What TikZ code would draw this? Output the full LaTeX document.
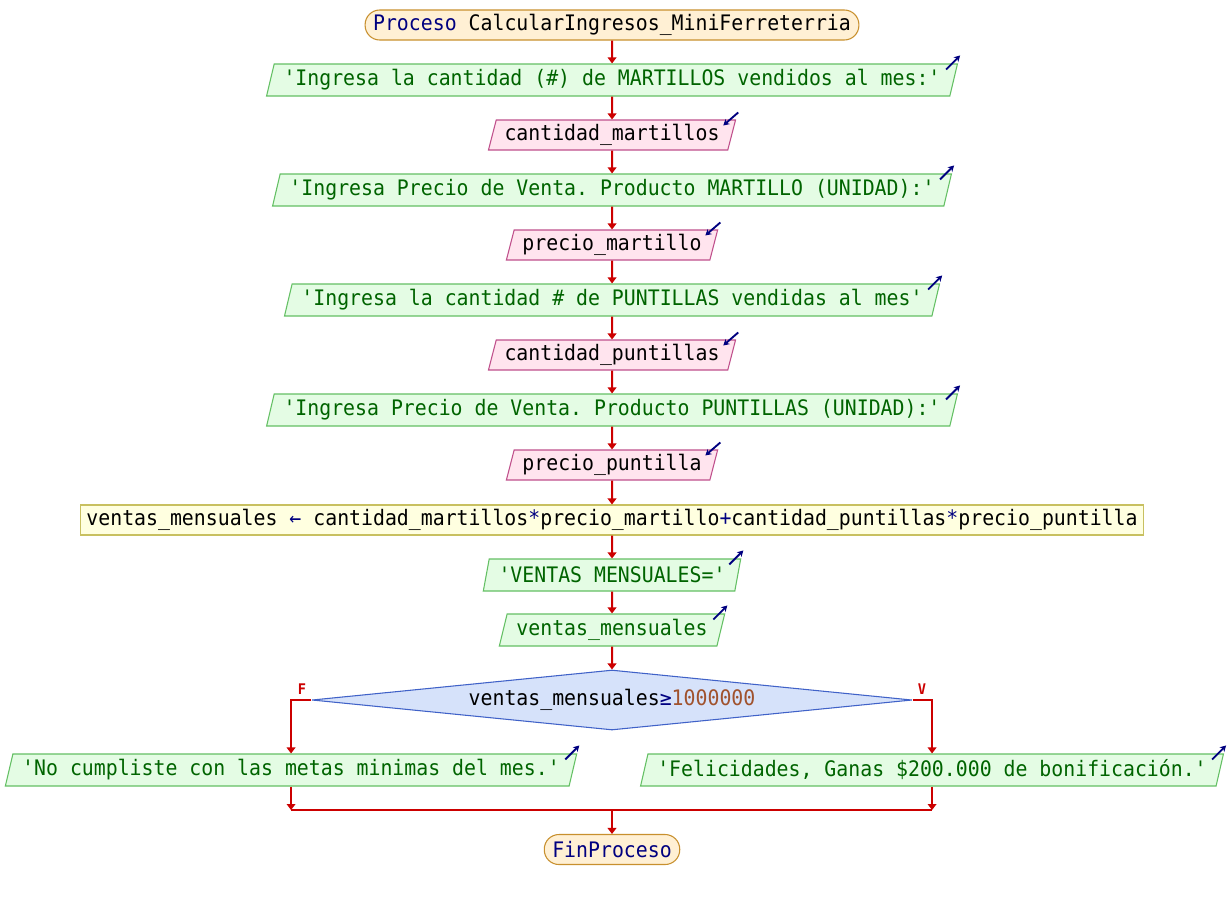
\documentclass[tikz,border=0pt]{standalone}
\usepackage{fontspec}
\setmonofont[FakeStretch=0.93]{DejaVu Sans Mono}
\usetikzlibrary{shapes.geometric,arrows.meta}

\definecolor{flowred}{HTML}{CC0000}
\definecolor{navy}{HTML}{000080}
\definecolor{termfill}{HTML}{FFF0D4}
\definecolor{termdraw}{HTML}{C8902E}
\definecolor{outfill}{HTML}{E4FCE4}
\definecolor{outdraw}{HTML}{64C064}
\definecolor{outtext}{HTML}{006400}
\definecolor{infill}{HTML}{FFE4EE}
\definecolor{indraw}{HTML}{C0508C}
\definecolor{asgfill}{HTML}{FFFFE0}
\definecolor{asgdraw}{HTML}{C8C060}
\definecolor{decfill}{HTML}{D6E2FA}
\definecolor{decdraw}{HTML}{4062C8}
\definecolor{numcol}{HTML}{A0522D}

% helpers for the small read/write marks at the top right corner of I/O boxes
\newcommand{\writemark}[1]{\draw[iomark] ([shift={(-12,6)}]#1.top right corner) -- ([shift={(2,-8)}]#1.top right corner);}
\newcommand{\readmark}[1]{\draw[iomark] ([shift={(2,-7)}]#1.top right corner) -- ([shift={(-13,6)}]#1.top right corner);}

\begin{document}
\begin{tikzpicture}[x=0.75pt,y=-0.75pt,
  font=\ttfamily\fontsize{16}{19}\selectfont,
  term/.style={rectangle, rounded corners=11pt, draw=termdraw, fill=termfill,
    line width=0.8pt, minimum height=22.5pt, inner xsep=6pt, inner ysep=0pt},
  outbox/.style={trapezium, trapezium left angle=70, trapezium right angle=110,
    trapezium stretches=true, draw=outdraw, fill=outfill, text=outtext,
    line width=0.8pt, minimum height=24pt, inner xsep=7pt, inner ysep=0pt},
  inbox/.style={trapezium, trapezium left angle=70, trapezium right angle=110,
    trapezium stretches=true, draw=indraw, fill=infill, text=black,
    line width=0.8pt, minimum height=22.5pt, inner xsep=6.2pt, inner ysep=0pt},
  asgbox/.style={rectangle, draw=asgdraw, fill=asgfill, line width=0.8pt,
    minimum height=22.5pt, inner xsep=4.5pt, inner ysep=0pt},
  condbox/.style={diamond, aspect=10, draw=decdraw, fill=decfill, line width=0.8pt,
    minimum width=450pt, minimum height=45pt, inner sep=0pt},
  flow/.style={draw=flowred, line width=1.5pt, -{Triangle[length=4.5pt,width=6.5pt]}},
  link/.style={draw=flowred, line width=1.5pt},
  iomark/.style={draw=navy, line width=1.4pt, -{Stealth[length=4.5pt,width=5pt]}},
  tag/.style={text=flowred, font=\ttfamily\bfseries\fontsize{11}{13}\selectfont, inner sep=0pt}
]
\useasboundingbox[fill=white] (0,0) rectangle (1230,900);

% main sequence
\node[term]   (start) at (612,25)  {{\color{navy}Proceso} CalcularIngresos\_MiniFerreterria};
\node[outbox] (o1)    at (612,80)  {'Ingresa la cantidad (\#) de MARTILLOS vendidos al mes:'};
\node[inbox]  (i1)    at (612,135) {cantidad\_martillos};
\node[outbox] (o2)    at (612,190) {'Ingresa Precio de Venta. Producto MARTILLO (UNIDAD):'};
\node[inbox]  (i2)    at (612,245) {precio\_martillo};
\node[outbox] (o3)    at (612,300) {'Ingresa la cantidad \# de PUNTILLAS vendidas al mes'};
\node[inbox]  (i3)    at (612,355) {cantidad\_puntillas};
\node[outbox] (o4)    at (612,410) {'Ingresa Precio de Venta. Producto PUNTILLAS (UNIDAD):'};
\node[inbox]  (i4)    at (612,465) {precio\_puntilla};
\node[asgbox] (calc)  at (612,520) {ventas\_mensuales {\color{navy}←} cantidad\_martillos{\color{navy}*}precio\_martillo{\color{navy}+}cantidad\_puntillas{\color{navy}*}precio\_puntilla};
\node[outbox] (o5)    at (612,575) {'VENTAS MENSUALES='};
\node[outbox] (o6)    at (612,630) {ventas\_mensuales};
\node[condbox] (cond) at (612,700) {ventas\_mensuales{\color{navy}≥}{\color{numcol}1000000}};

% branches
\node[outbox] (nomsg)  at (291,770) {'No cumpliste con las metas minimas del mes.'};
\node[outbox] (yesmsg) at (932,770) {'Felicidades, Ganas \$200.000 de bonificación.'};
\node[tag] (ftag) at (302,689) {F};
\node[tag] (vtag) at (922,689) {V};

\coordinate (join) at (612,810);
\node[term] (fin) at (612,849.5) {{\color{navy}FinProceso}};

% read/write marks
\writemark{o1} \readmark{i1}
\writemark{o2} \readmark{i2}
\writemark{o3} \readmark{i3}
\writemark{o4} \readmark{i4}
\writemark{o5} \writemark{o6}
\writemark{nomsg} \writemark{yesmsg}

% connectors
\draw[flow] (start) -- (o1);
\draw[flow] (o1) -- (i1);
\draw[flow] (i1) -- (o2);
\draw[flow] (o2) -- (i2);
\draw[flow] (i2) -- (o3);
\draw[flow] (o3) -- (i3);
\draw[flow] (i3) -- (o4);
\draw[flow] (o4) -- (i4);
\draw[flow] (i4) -- (calc);
\draw[flow] (calc) -- (o5);
\draw[flow] (o5) -- (o6);
\draw[flow] (o6) -- (cond);
\draw[flow] (cond.west) -| (nomsg.north);
\draw[flow] (cond.east) -| (yesmsg.north);
\draw[flow] (nomsg.south) -- (nomsg.south |- join);
\draw[flow] (yesmsg.south) -- (yesmsg.south |- join);
\draw[link] (nomsg.south |- join) -- (yesmsg.south |- join);
\draw[flow] (join) -- (fin);
\end{tikzpicture}
\end{document}
